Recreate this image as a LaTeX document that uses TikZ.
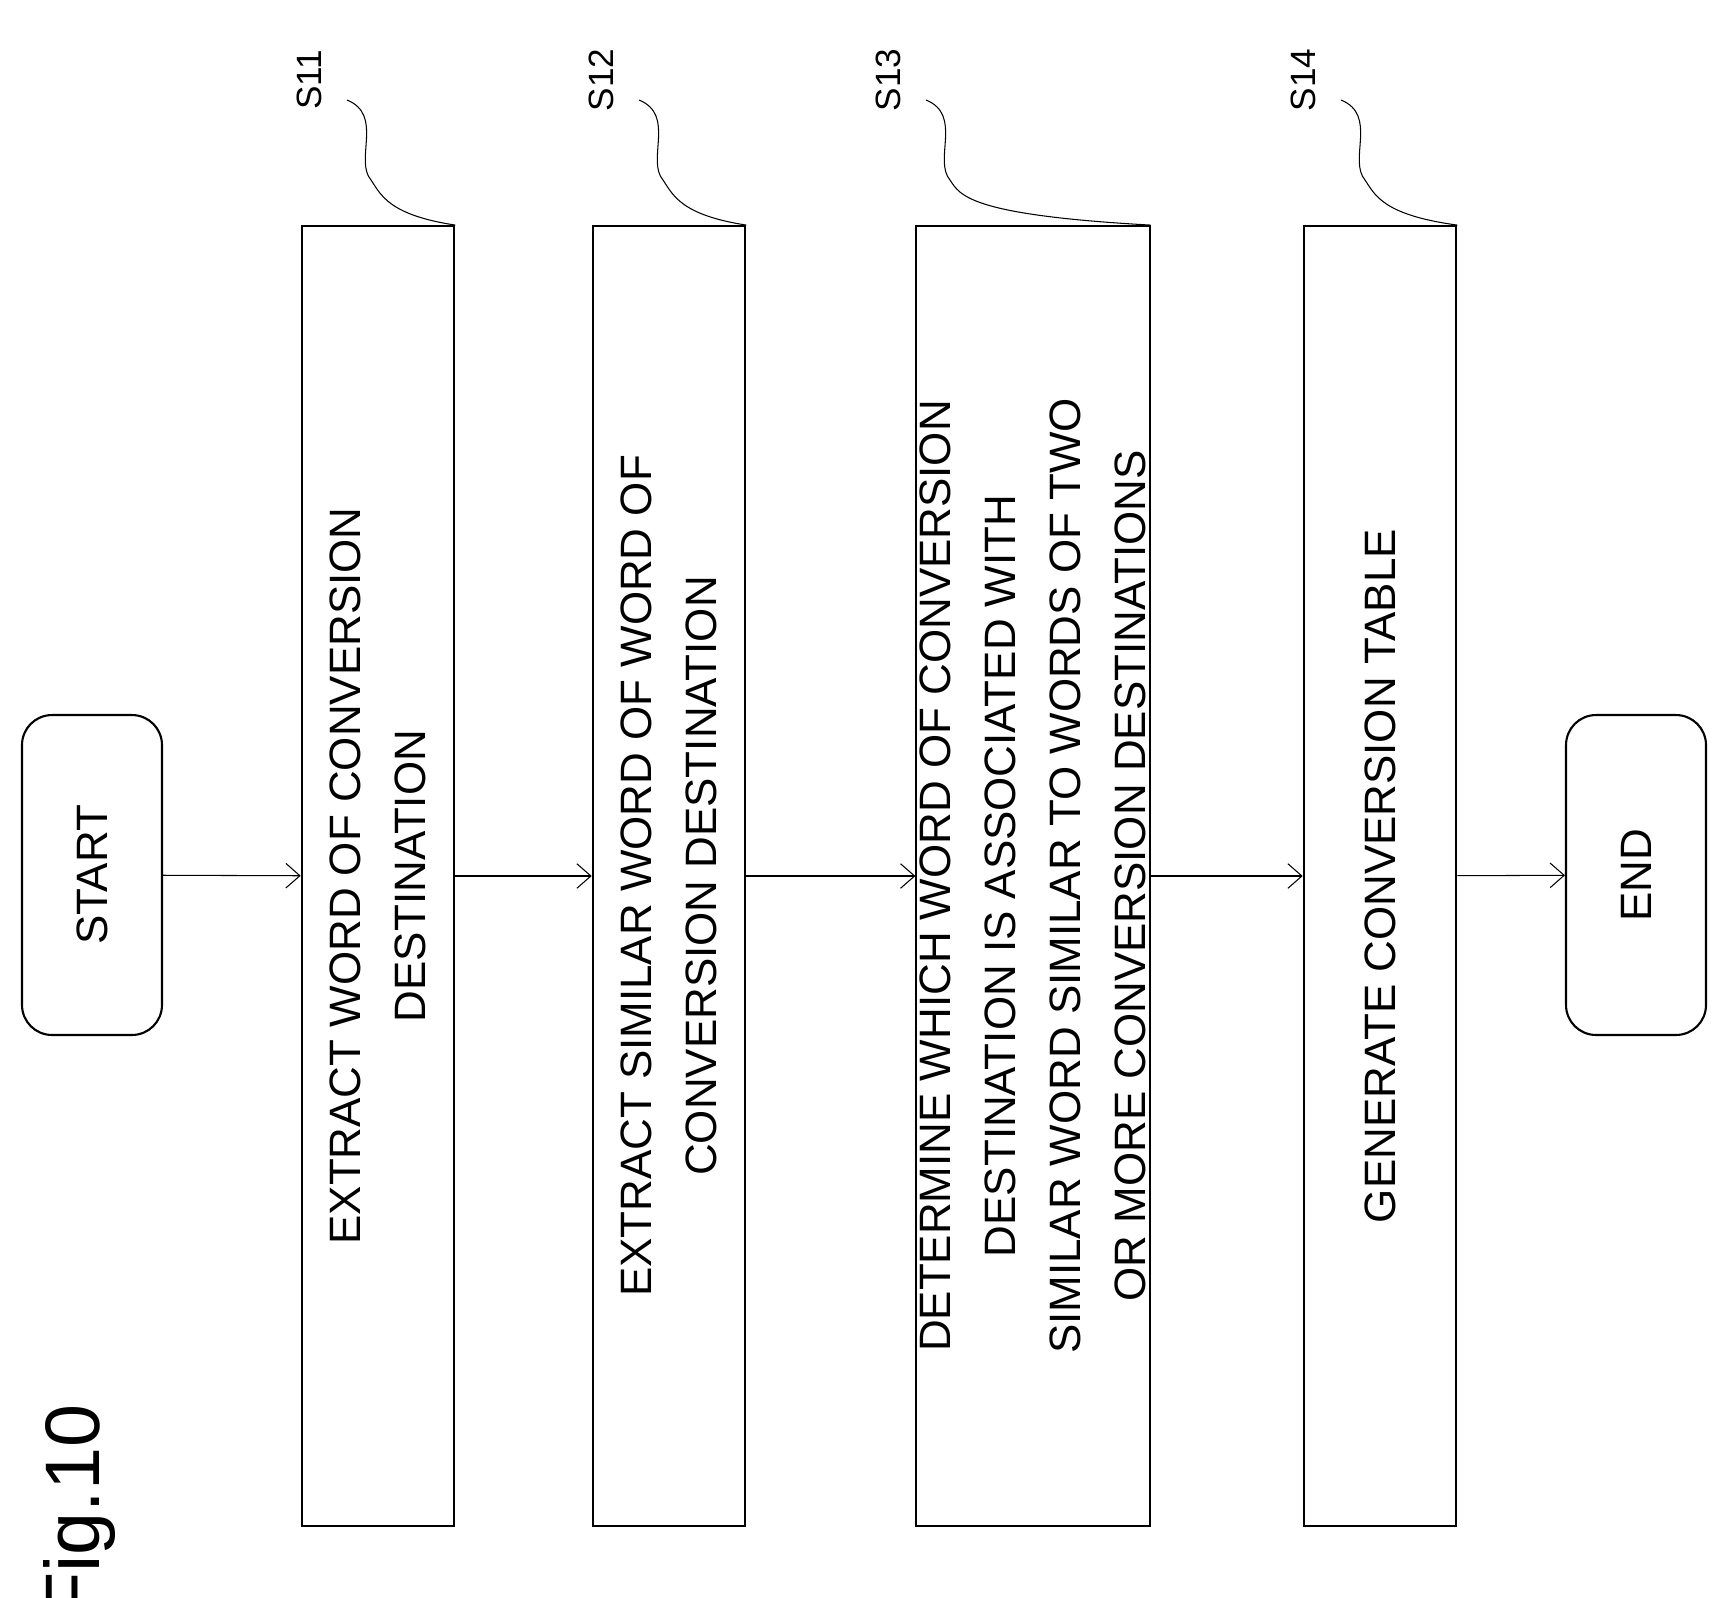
\documentclass[tikz,border=0pt]{standalone}
\usepackage{fontspec}
\setmainfont{Liberation Sans}
\usetikzlibrary{arrows.meta}

\tikzset{
  procbox/.style={draw, line width=1.2pt, rotate=90, minimum width=26cm, minimum height=3.05cm,
    align=center, font=\fontsize{25}{37}\selectfont, inner sep=2pt},
  term/.style={draw, line width=1.2pt, rounded corners=0.6cm, rotate=90, minimum width=6.4cm,
    minimum height=2.8cm, font=\fontsize{25}{30}\selectfont},
  flow/.style={line width=0.6pt, -{Straight Barb[length=8pt,width=14pt]}},
  tag/.style={rotate=90, font=\fontsize{20}{24}\selectfont},
  lead/.style={line width=0.6pt},
}

\begin{document}
\begin{tikzpicture}[x=0.02cm, y=-0.02cm]
  \useasboundingbox (0,0) rectangle (1720,1597);
  \node[rotate=90, font=\fontsize{44}{50}\selectfont] (fig) at (80,1512) {Fig.10};

  \node[term] (start) at (92,875) {START};
  \node[procbox] (s11) at (378,876) {EXTRACT WORD OF CONVERSION\\DESTINATION};
  \node[procbox] (s12) at (669,876) {EXTRACT SIMILAR WORD OF WORD OF\\CONVERSION DESTINATION};
  \node[procbox] (s13) at (1033,876) {DETERMINE WHICH WORD OF CONVERSION\\DESTINATION IS ASSOCIATED WITH\\SIMILAR WORD SIMILAR TO WORDS OF TWO\\OR MORE CONVERSION DESTINATIONS};
  \node[procbox] (s14) at (1380,876) {GENERATE CONVERSION TABLE};
  \node[term] (end) at (1636,875) {END};

  \draw[flow] (start) -- (s11);
  \draw[flow] (s11) -- (s12);
  \draw[flow] (s12) -- (s13);
  \draw[flow] (s13) -- (s14);
  \draw[flow] (s14) -- (end);

  % step labels
  \foreach \nm/\tx/\lx in {s11/S11/309, s12/S12/601, s13/S13/888, s14/S14/1303} {
    \node[tag] (t\nm) at (\lx,80) {\tx};
    \draw[lead] (\lx+38,100) .. controls (\lx+75,115) and (\lx+45,160) .. (\lx+62,180)
      .. controls (\lx+72,195) and (\lx+80,215) .. (\nm.south east);
  }
\end{tikzpicture}
\end{document}
